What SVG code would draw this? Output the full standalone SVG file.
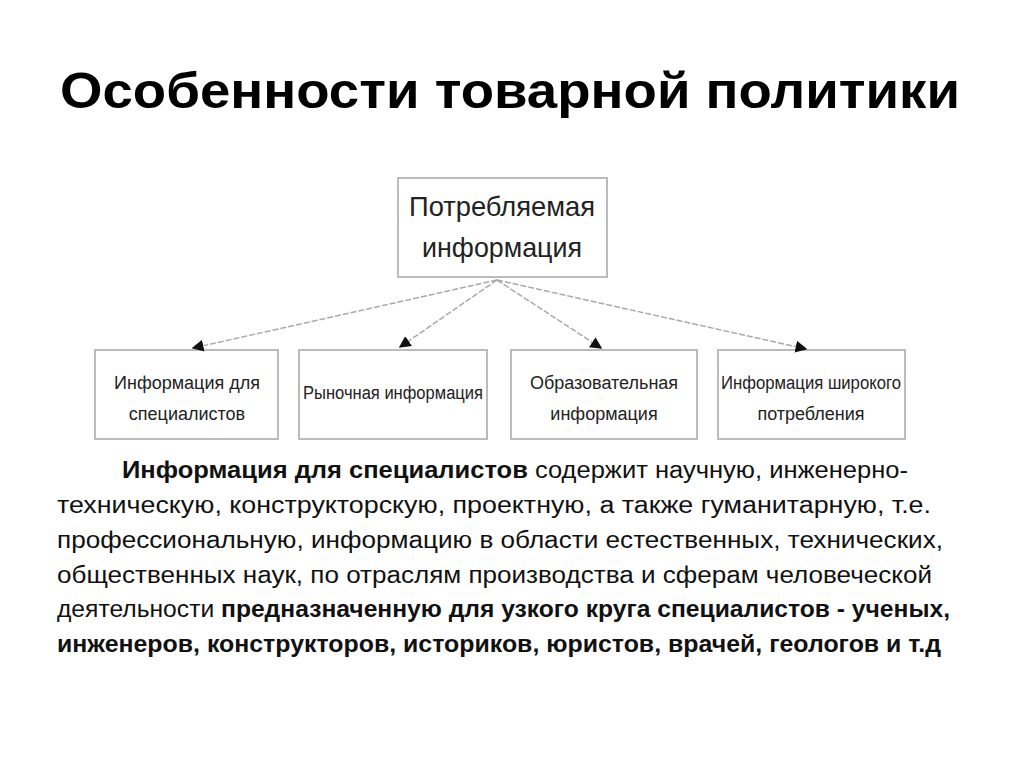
<svg xmlns="http://www.w3.org/2000/svg" width="1024" height="767" viewBox="0 0 1024 767">
<style>
.t{font-family:"Liberation Sans",Arial,sans-serif;fill:#000}
.n{fill:#fff;stroke:#bbb;stroke-width:2}
.nl{font-family:"Liberation Sans",Arial,sans-serif;font-size:18px;fill:#222;text-anchor:middle}
.big{font-size:28px}
.c{stroke:#aaa;stroke-width:1.5;fill:none;stroke-dasharray:6 2}
.p{font-family:"Liberation Sans",Arial,sans-serif;font-size:23px;fill:#111}
</style>
<defs><marker id="a" markerWidth="8" markerHeight="8" refX="7" refY="4" orient="auto"><path d="M0,0 L8,4 L0,8 z" fill="#111"/></marker></defs>
<rect width="1024" height="767" fill="#fff"/>
<text class="t" x="60" y="108" font-size="50" font-weight="bold" textLength="900" lengthAdjust="spacingAndGlyphs">Особенности товарной политики</text>
<g id="n0"><rect class="n" x="398" y="178" width="209" height="99"/>
<text class="nl big" x="502" y="216" textLength="186" lengthAdjust="spacingAndGlyphs">Потребляемая</text><text class="nl big" x="502" y="257" textLength="160" lengthAdjust="spacingAndGlyphs">информация</text></g>
<g id="n1"><rect class="n" x="95" y="350" width="183" height="89"/><text class="nl" x="187" y="389">Информация для</text><text class="nl" x="187" y="420">специалистов</text></g>
<g id="n2"><rect class="n" x="299" y="350" width="188" height="89"/><text class="nl" x="393" y="399" textLength="180" lengthAdjust="spacingAndGlyphs">Рыночная информация</text></g>
<g id="n3"><rect class="n" x="511" y="350" width="186" height="89"/><text class="nl" x="604" y="389">Образовательная</text><text class="nl" x="604" y="420">информация</text></g>
<g id="n4"><rect class="n" x="718" y="350" width="187" height="89"/><text class="nl" x="811" y="389" textLength="180" lengthAdjust="spacingAndGlyphs">Информация широкого</text><text class="nl" x="811" y="420">потребления</text></g>
<g id="connectors">
<line class="c" x1="497" y1="280" x2="193" y2="348" marker-end="url(#a)"/>
<line class="c" x1="497" y1="280" x2="400" y2="347" marker-end="url(#a)"/>
<line class="c" x1="497" y1="280" x2="601" y2="348" marker-end="url(#a)"/>
<line class="c" x1="497" y1="280" x2="806" y2="349" marker-end="url(#a)"/>
</g>
<text class="p" x="122" y="478" textLength="786" lengthAdjust="spacingAndGlyphs"><tspan font-weight="bold">Информация для специалистов</tspan> содержит научную, инженерно-</text>
<text class="p" x="57" y="513" textLength="874" lengthAdjust="spacingAndGlyphs">техническую, конструкторскую, проектную, а также гуманитарную, т.е.</text>
<text class="p" x="57" y="548" textLength="886" lengthAdjust="spacingAndGlyphs">профессиональную, информацию в области естественных, технических,</text>
<text class="p" x="57" y="583" textLength="875" lengthAdjust="spacingAndGlyphs">общественных наук, по отраслям производства и сферам человеческой</text>
<text class="p" x="57" y="617" textLength="893" lengthAdjust="spacingAndGlyphs">деятельности <tspan font-weight="bold">предназначенную для узкого круга специалистов - ученых,</tspan></text>
<text class="p" x="57" y="652" font-weight="bold" textLength="884" lengthAdjust="spacingAndGlyphs">инженеров, конструкторов, историков, юристов, врачей, геологов и т.д</text>
</svg>
